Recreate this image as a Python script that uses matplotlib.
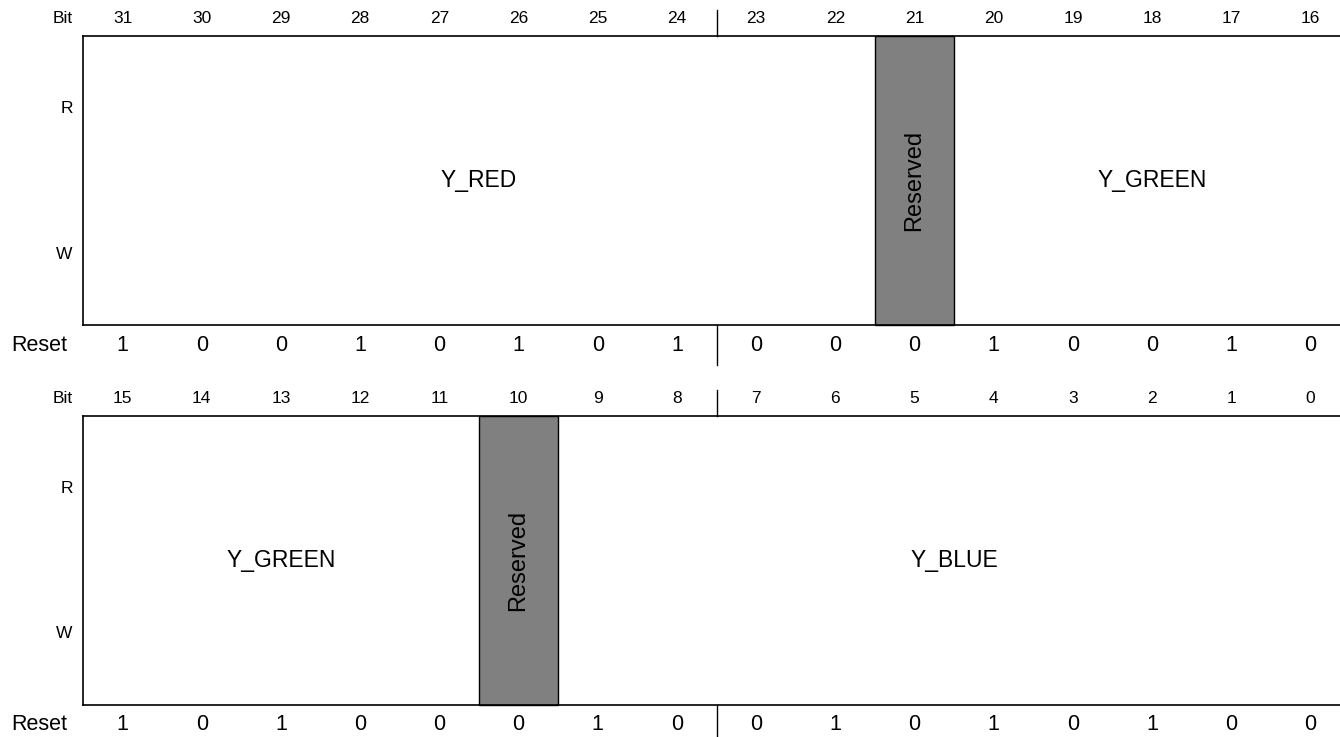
import matplotlib.pyplot as plt
from matplotlib.patches import Rectangle

plt.rcParams['font.family'] = ['Liberation Sans', 'DejaVu Sans']

# register layout: two rows of 16 bits
bits_top = list(range(31, 15, -1))
bits_bottom = list(range(15, -1, -1))
reset_top = [1, 0, 0, 1, 0, 1, 0, 1, 0, 0, 0, 1, 0, 0, 1, 0]
reset_bottom = [1, 0, 1, 0, 0, 0, 1, 0, 0, 1, 0, 1, 0, 1, 0, 0]

# fields: (name, first cell, number of cells, reserved?)
fields_top = [("Y_RED", 0, 10, False), ("Reserved", 10, 1, True), ("Y_GREEN", 11, 5, False)]
fields_bottom = [("Y_GREEN", 0, 5, False), ("Reserved", 5, 1, True), ("Y_BLUE", 6, 10, False)]

W, H = 1340, 737
CELL = 79.2
X0 = 83

fig = plt.figure(figsize=(W / 100, H / 100), dpi=100)
ax = fig.add_axes([0, 0, 1, 1])
ax.set_xlim(-X0 / CELL, (W - X0) / CELL)
ax.set_ylim(H, 0)
ax.axis('off')


def draw_row(y0, bits, resets, fields):
    top = y0 + 36
    bottom = y0 + 325
    xr = ax.get_xlim()[1] + 1
    # bit numbers
    ax.text(-0.125, y0 + 18, "Bit", ha='right', va='center', fontsize=12.5)
    for i, b in enumerate(bits):
        ax.text(i + 0.5, y0 + 18, str(b), ha='center', va='center', fontsize=12.5)
    # R / W labels
    ax.text(-0.13, y0 + 108, "R", ha='right', va='center', fontsize=12.5)
    ax.text(-0.13, y0 + 254, "W", ha='right', va='center', fontsize=12.5)
    # fields
    for name, start, n, reserved in fields:
        if reserved:
            ax.add_patch(Rectangle((start, top), n, bottom - top, facecolor='#808080',
                                   edgecolor='black', lw=1.0, zorder=2))
            ax.text(start + n / 2, (top + bottom) / 2, name, rotation=90,
                    ha='center', va='center', fontsize=17, zorder=3)
        else:
            ax.text(start + n / 2, (top + bottom) / 2, name,
                    ha='center', va='center', fontsize=16.5)
    # box outline
    ax.plot([0, xr], [top, top], color='black', lw=1.2, zorder=4)
    ax.plot([0, xr], [bottom, bottom], color='black', lw=1.2, zorder=4)
    ax.plot([0, 0], [top, bottom], color='black', lw=1.2, zorder=4)
    # byte divider
    ax.plot([8, 8], [y0 + 10, top], color='black', lw=1.0)
    ax.plot([8, 8], [bottom, y0 + 365], color='black', lw=1.0)
    # reset values
    ax.text(-0.2, y0 + 345, "Reset", ha='right', va='center', fontsize=15.5)
    for i, r in enumerate(resets):
        ax.text(i + 0.5, y0 + 345, str(r), ha='center', va='center', fontsize=15.5)


draw_row(0, bits_top, reset_top, fields_top)
draw_row(380, bits_bottom, reset_bottom, fields_bottom)

fig.savefig("out.png", dpi=100)
